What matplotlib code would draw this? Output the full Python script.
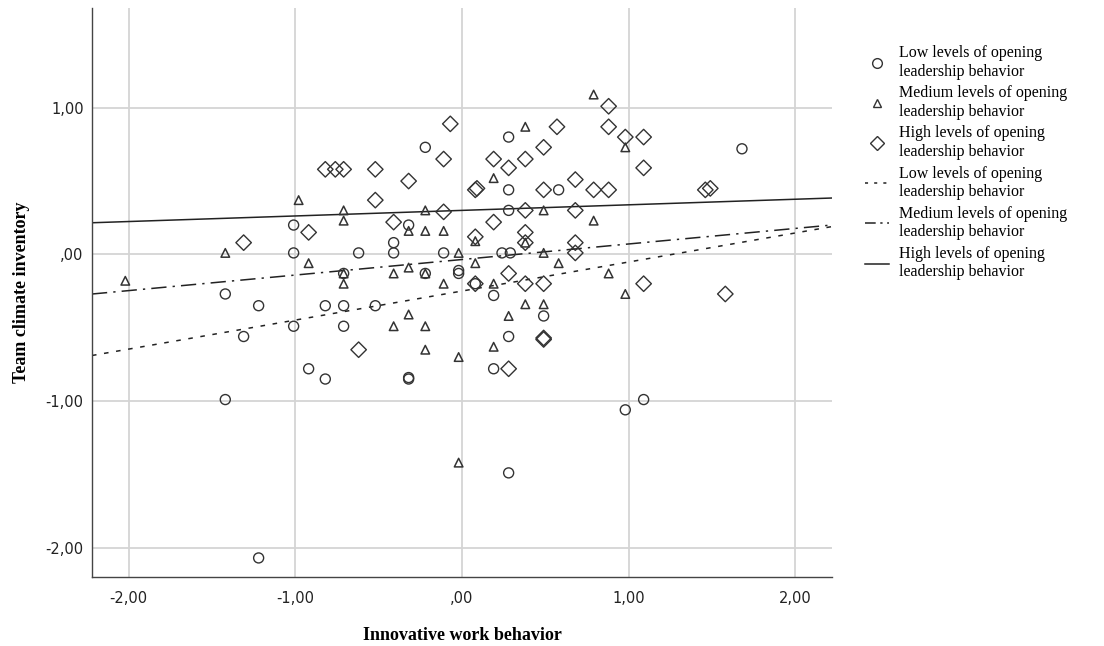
"""
Scatter of team climate vs innovative work behavior, by opening-leadership level,
with one fit line per group (SPSS-style chart).
"""

import matplotlib
matplotlib.use("Agg")

import matplotlib.pyplot as plt
import numpy as np
from matplotlib.lines import Line2D
from matplotlib.ticker import FuncFormatter

# ── data ────────────────────────────────────────────────────────────────────
low_x = [1.68, -0.22, 0.28, 0.28, 0.58, 0.28, 0.24, 0.29, -1.01, -1.01, -0.62,
         -0.41, -0.41, -0.32, -0.11, -0.71, -0.22, -0.02, -0.02, 0.08, -1.42,
         -1.22, -0.82, -0.71, -0.52, -1.01, -0.71, -1.31, -0.92, -0.82, -0.32,
         -0.32, -1.42, -1.22, 0.19, 0.49, 0.28, 0.19, 1.09, 0.98, 0.28]
low_y = [0.72, 0.73, 0.80, 0.44, 0.44, 0.30, 0.01, 0.01, 0.20, 0.01, 0.01,
         0.08, 0.01, 0.20, 0.01, -0.13, -0.13, -0.11, -0.13, -0.20, -0.27,
         -0.35, -0.35, -0.35, -0.35, -0.49, -0.49, -0.56, -0.78, -0.85, -0.85,
         -0.84, -0.99, -2.07, -0.28, -0.42, -0.56, -0.78, -0.99, -1.06, -1.49]

med_x = [-2.02, -1.42, -0.98, -0.92, -0.71, -0.71, -0.71, -0.71, -0.41, -0.32,
         -0.32, -0.22, -0.22, -0.11, -0.02, -0.11, 0.08, 0.08, 0.79, 0.38,
         0.19, 0.98, 0.49, 0.79, 0.38, 0.49, 0.58, 0.88, 0.19, 0.98,
         0.38, 0.49, 0.28, 0.19, -0.02, -0.02, -0.32, -0.41, -0.22, -0.22, -0.22]
med_y = [-0.18, 0.01, 0.37, -0.06, 0.30, 0.23, -0.13, -0.20, -0.13, 0.16,
         -0.09, 0.30, 0.16, 0.16, 0.01, -0.20, -0.06, 0.09, 1.09, 0.87,
         0.52, 0.73, 0.30, 0.23, 0.08, 0.01, -0.06, -0.13, -0.20, -0.27,
         -0.34, -0.34, -0.42, -0.63, -0.70, -1.42, -0.41, -0.49, -0.49, -0.65, -0.13]

high_x = [-1.31, -0.82, -0.76, -0.71, -0.52, -0.32, -0.52, -0.07, -0.11, -0.11,
          -0.41, -0.92, 0.08, 0.09, 0.08, -0.62, 0.08, 0.88, 0.57, 0.88,
          0.98, 1.09, 1.09, 0.19, 0.28, 0.38, 0.49, 0.68, 0.49, 0.79,
          0.88, 0.38, 0.68, 0.19, 0.38, 0.38, 0.68, 0.68, 0.28, 0.38,
          0.49, 1.09, 1.46, 1.49, 1.58, 0.28, 0.49, 0.49]
high_y = [0.08, 0.58, 0.58, 0.58, 0.58, 0.50, 0.37, 0.89, 0.65, 0.29,
          0.22, 0.15, 0.44, 0.45, 0.12, -0.65, -0.20, 1.01, 0.87, 0.87,
          0.80, 0.80, 0.59, 0.65, 0.59, 0.65, 0.73, 0.51, 0.44, 0.44,
          0.44, 0.30, 0.30, 0.22, 0.15, 0.08, 0.08, 0.01, -0.13, -0.20,
          -0.20, -0.20, 0.44, 0.45, -0.27, -0.78, -0.57, -0.58]

# fit lines: intercept, slope
fit_low = (-0.25, 0.198)
fit_med = (-0.035, 0.106)
fit_high = (0.30, 0.038)

label = "{} levels of opening\nleadership behavior"

# ── figure ──────────────────────────────────────────────────────────────────
fig = plt.figure(figsize=(11.04, 6.46), dpi=100)
ax = fig.add_axes([0.0833, 0.1068, 0.6703, 0.8808])

XMIN, XMAX = -2.22, 2.22
ax.set_xlim(XMIN, XMAX)
ax.set_ylim(-2.20, 1.68)

edge = "#333333"
ax.scatter(low_x, low_y, s=52, marker="o", facecolors="none",
           edgecolors=edge, linewidths=1.0, zorder=3)
ax.scatter(med_x, med_y, s=38, marker="^", facecolors="none",
           edgecolors=edge, linewidths=1.1, zorder=3)
ax.scatter(high_x, high_y, s=62, marker="D", facecolors="none",
           edgecolors=edge, linewidths=1.0, zorder=3)

xs = np.array([XMIN, XMAX])
ls_low = (0, (3, 5))
ls_med = (0, (10, 4, 1.5, 4))
ax.plot(xs, fit_low[0] + fit_low[1] * xs, color="#222222", lw=1.1, ls=ls_low, zorder=2)
ax.plot(xs, fit_med[0] + fit_med[1] * xs, color="#222222", lw=1.1, ls=ls_med, zorder=2)
ax.plot(xs, fit_high[0] + fit_high[1] * xs, color="#222222", lw=1.1, ls="-", zorder=2)

# axes styling
ax.set_xticks([-2, -1, 0, 1, 2])
ax.set_yticks([-2, -1, 0, 1])
fmt = FuncFormatter(lambda v, p: ("%.2f" % v).replace("0.", ".", 1).replace(".", ",")
                    if abs(v) < 1 else ("%.2f" % v).replace(".", ","))
ax.xaxis.set_major_formatter(fmt)
ax.yaxis.set_major_formatter(fmt)
ax.grid(True, color="#d4d4d4", lw=1.3, zorder=0)
ax.set_axisbelow(True)
ax.tick_params(length=0, labelsize=10.5, colors="#222222")
ax.tick_params(axis="x", pad=10)
ax.tick_params(axis="y", pad=6)
for t in ax.get_xticklabels() + ax.get_yticklabels():
    t.set_family("Liberation Sans Narrow")
for s in ["top", "right"]:
    ax.spines[s].set_visible(False)
for s in ["left", "bottom"]:
    ax.spines[s].set_color("#444444")
    ax.spines[s].set_linewidth(1.0)

ax.set_xlabel("Innovative work behavior", family="Liberation Serif",
              fontweight="bold", fontsize=13, labelpad=15)
ax.set_ylabel("Team climate inventory", family="Liberation Serif",
              fontweight="bold", fontsize=13, labelpad=11)

# legend
handles = [
    Line2D([], [], ls="none", marker="o", ms=7, mfc="none", mec=edge),
    Line2D([], [], ls="none", marker="^", ms=6, mfc="none", mec=edge),
    Line2D([], [], ls="none", marker="D", ms=7, mfc="none", mec=edge),
    Line2D([], [], color="#222222", lw=1.1, ls=(0, (2, 4))),
    Line2D([], [], color="#222222", lw=1.1, ls=(0, (7, 3, 1.5, 3))),
    Line2D([], [], color="#222222", lw=1.1, ls="-"),
]
labels = [label.format(g) for g in ["Low", "Medium", "High"] * 2]
fig.legend(handles, labels, loc="upper left", bbox_to_anchor=(0.778, 0.94),
           frameon=False, prop={"family": "Liberation Serif", "size": 11.5},
           handlelength=1.5, handletextpad=0.6, labelspacing=0.36,
           borderaxespad=0)

fig.savefig("out.png", dpi=100)
